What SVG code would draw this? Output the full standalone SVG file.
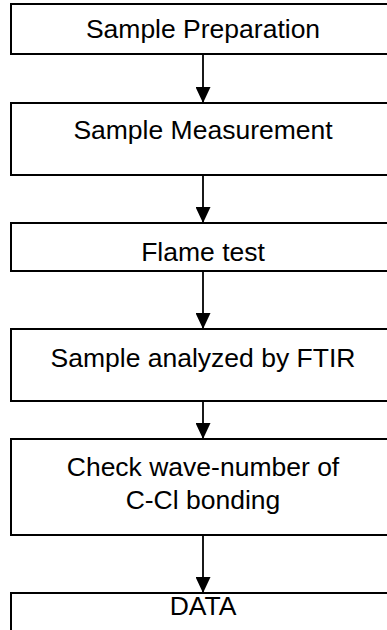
<svg xmlns="http://www.w3.org/2000/svg" width="387" height="630" viewBox="0 0 387 630">
<defs>
<style>
.box{fill:#fff;stroke:#000;stroke-width:2}
.lbl{font-family:"Liberation Sans",Arial,sans-serif;font-size:26.5px;fill:#000;text-anchor:middle}
.edge{stroke:#000;stroke-width:1.8;fill:none}
</style>
<marker id="ah" markerUnits="userSpaceOnUse" markerWidth="16" markerHeight="15" refX="16" refY="7.5" orient="auto">
<path d="M0,0 L16,7.5 L0,15 z" fill="#000"/>
</marker>
</defs>
<rect width="387" height="630" fill="#fff"/>
<g id="n1"><rect class="box" x="11" y="4" width="384" height="50"/><text class="lbl" x="203" y="38">Sample Preparation</text></g>
<g id="n2"><rect class="box" x="11" y="103" width="384" height="72"/><text class="lbl" x="203" y="139">Sample Measurement</text></g>
<g id="n3"><rect class="box" x="11" y="223" width="384" height="48"/><text class="lbl" x="203" y="261">Flame test</text></g>
<g id="n4"><rect class="box" x="11" y="329" width="384" height="72"/><text class="lbl" x="203" y="367">Sample analyzed by FTIR</text></g>
<g id="n5"><rect class="box" x="11" y="439" width="384" height="96"/><text class="lbl" x="203" y="476">Check wave-number of</text><text class="lbl" x="203" y="509">C-Cl bonding</text></g>
<g id="n6"><rect class="box" x="11" y="593" width="384" height="60"/><text class="lbl" x="203" y="615">DATA</text></g>
<g id="edges">
<line class="edge" x1="203" y1="55" x2="203" y2="103" marker-end="url(#ah)"/>
<line class="edge" x1="203" y1="176" x2="203" y2="223" marker-end="url(#ah)"/>
<line class="edge" x1="203" y1="272" x2="203" y2="329" marker-end="url(#ah)"/>
<line class="edge" x1="203" y1="402" x2="203" y2="439" marker-end="url(#ah)"/>
<line class="edge" x1="203" y1="536" x2="203" y2="593" marker-end="url(#ah)"/>
</g>
</svg>
